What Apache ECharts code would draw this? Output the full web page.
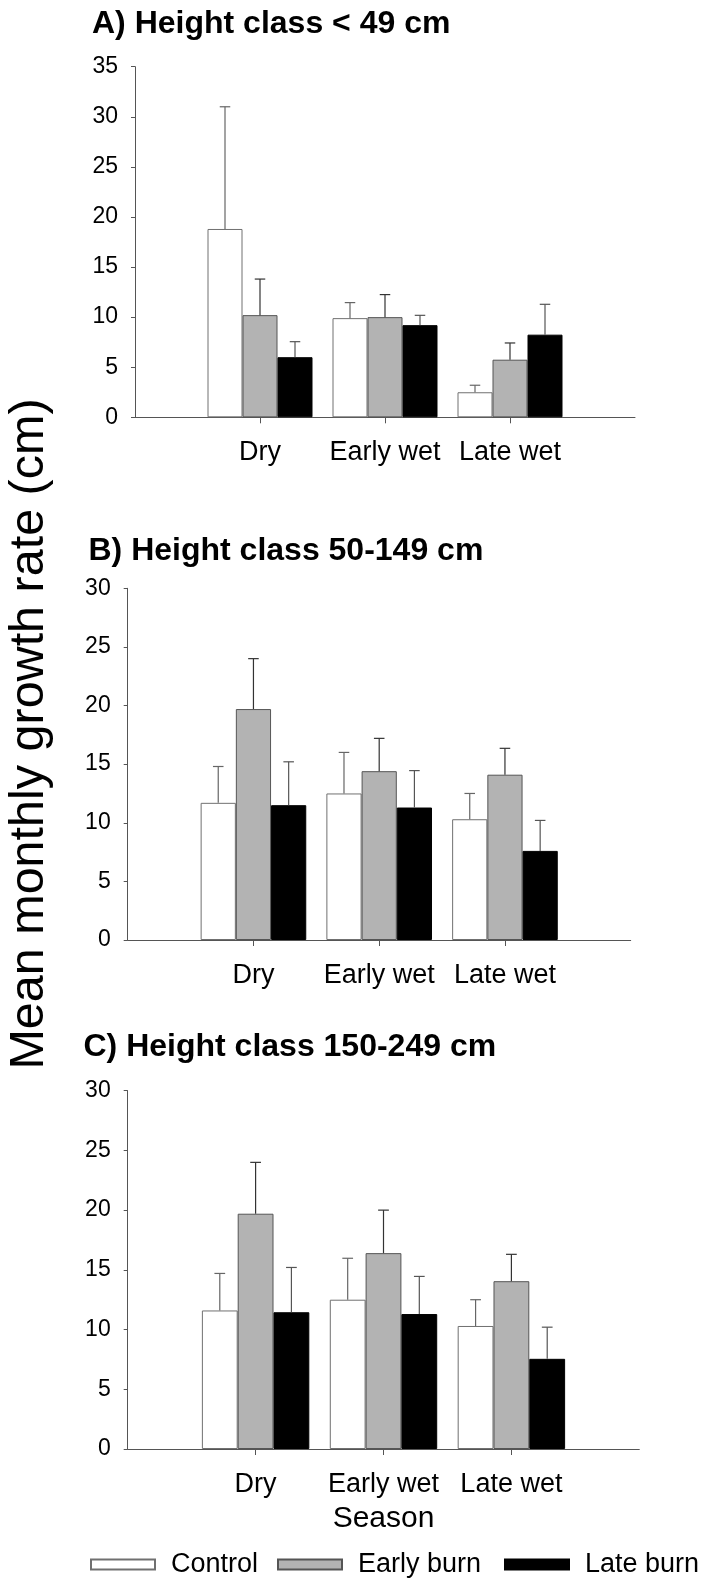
<!DOCTYPE html>
<html><head><meta charset="utf-8">
<script src="https://cdn.jsdelivr.net/npm/echarts@6/dist/echarts.min.js"></script>
<style>html,body{margin:0;padding:0;background:#fff}#c{width:721px;height:1579px}</style>
</head><body><div id="c"></div>
<script>
// ---------- DATA ----------
const seasons = ['Dry', 'Early wet', 'Late wet'];
const treatments = ['Control', 'Early burn', 'Late burn'];
const panelTitles = ['A) Height class < 49 cm', 'B) Height class 50-149 cm', 'C) Height class 150-249 cm'];
const yMaxValues = [35, 30, 30];
const yStep = 5;
const yAxisTitle = 'Mean monthly growth rate (cm)';
const xAxisTitle = 'Season';

// Panel A means / standard errors (upper bars)
const meanA_Control = [18.8, 9.9, 2.5];
const meanA_Early = [10.2, 10.0, 5.75];
const meanA_Late = [6.0, 9.2, 8.25];
const errA_Control = [12.2, 1.55, 0.7];
const errA_Early = [3.6, 2.25, 1.67];
const errA_Late = [1.55, 0.98, 3.03];
// Panel B
const meanB_Control = [11.7, 12.5, 10.3];
const meanB_Early = [19.7, 14.4, 14.1];
const meanB_Late = [11.5, 11.3, 7.6];
const errB_Control = [3.1, 3.5, 2.2];
const errB_Early = [4.3, 2.8, 2.25];
const errB_Late = [3.7, 3.15, 2.6];
// Panel C
const meanC_Control = [11.6, 12.5, 10.3];
const meanC_Early = [19.7, 16.4, 14.05];
const meanC_Late = [11.45, 11.3, 7.55];
const errC_Control = [3.1, 3.47, 2.2];
const errC_Early = [4.3, 3.6, 2.25];
const errC_Late = [3.75, 3.15, 2.65];

// ---------- LAYOUT / STYLE ----------
const FONT = 'Liberation Sans, Arial, Helvetica, sans-serif';
const GRIDS = [
  {left: 135, top: 66.7, width: 500, height: 350.6},
  {left: 127.7, top: 588.3, width: 503, height: 351.7},
  {left: 127.7, top: 1090.7, width: 511.6, height: 358.3}
];
const TITLE_POS = [{left: 92, top: 8}, {left: 88.5, top: 535}, {left: 83.5, top: 1031.5}];
const BAR_FRAC = 0.28;
const BAR_STYLES = [
  {color: '#ffffff', borderColor: '#707070', borderWidth: 1},
  {color: '#b3b3b3', borderColor: '#555555', borderWidth: 1},
  {color: '#000000', borderColor: '#000000', borderWidth: 1}
];
const ERR_COLORS = ['#666666', '#333333', '#555555'];
const LEGEND_X = [90, 277, 504];

const means = [
  [meanA_Control, meanA_Early, meanA_Late],
  [meanB_Control, meanB_Early, meanB_Late],
  [meanC_Control, meanC_Early, meanC_Late]
];
const errs = [
  [errA_Control, errA_Early, errA_Late],
  [errB_Control, errB_Early, errB_Late],
  [errC_Control, errC_Early, errC_Late]
];
const cats = [''].concat(seasons).concat([' ']);

const grid = [], xAxis = [], yAxis = [], series = [], title = [];
for (let p = 0; p < 3; p++) {
  grid.push(Object.assign({outerBoundsMode: 'none', containLabel: false}, GRIDS[p]));
  title.push({text: panelTitles[p], left: TITLE_POS[p].left, top: TITLE_POS[p].top, padding: 0,
    textStyle: {fontSize: 32, fontWeight: 'bold', color: '#000', fontFamily: FONT}});
  xAxis.push({
    type: 'category', gridIndex: p, data: cats, boundaryGap: false,
    axisLine: {show: true, lineStyle: {color: '#555', width: 1}},
    axisTick: {show: true, length: 6, interval: (i, v) => String(v).trim() !== '', lineStyle: {color: '#555'}},
    axisLabel: {interval: 0, color: '#000', fontSize: 27, fontFamily: FONT, margin: 22},
    splitLine: {show: false},
    name: p === 2 ? xAxisTitle : '', nameLocation: 'middle', nameGap: 55,
    nameTextStyle: {fontSize: 30, color: '#000', fontFamily: FONT}
  });
  yAxis.push({
    type: 'value', gridIndex: p, min: 0, max: yMaxValues[p], interval: yStep,
    axisLine: {show: true, lineStyle: {color: '#555', width: 1}},
    axisTick: {show: true, length: 4, lineStyle: {color: '#555'}},
    axisLabel: {color: '#000', fontSize: 23, fontFamily: FONT, margin: 17},
    splitLine: {show: false}
  });
  for (let t = 0; t < 3; t++) {
    series.push({
      type: 'bar', name: treatments[t], xAxisIndex: p, yAxisIndex: p,
      data: ['-'].concat(means[p][t]).concat(['-']),
      barWidth: (BAR_FRAC * 100) + '%', barGap: '0%',
      itemStyle: BAR_STYLES[t], z: 2, silent: true
    });
    const k = t;
    series.push({
      type: 'custom', xAxisIndex: p, yAxisIndex: p, z: 3, silent: true,
      data: seasons.map((s, i) => [s, means[p][t][i], errs[p][t][i]]),
      encode: {x: 0, y: 1},
      renderItem: function (params, api) {
        const c = api.value(0);
        const m = api.value(1), e = api.value(2);
        const base = api.coord([c, m]);
        const top = api.coord([c, m + e]);
        const band = api.size([1, 0])[0];
        const bw = band * BAR_FRAC;
        const x = base[0] + (k - 1) * bw;
        const cap = bw * 0.3;
        const st = {stroke: ERR_COLORS[k], lineWidth: 1.2};
        return {type: 'group', children: [
          {type: 'line', shape: {x1: x, y1: base[1], x2: x, y2: top[1]}, style: st},
          {type: 'line', shape: {x1: x - cap / 2, y1: top[1], x2: x + cap / 2, y2: top[1]}, style: st}
        ]};
      }
    });
  }
}

const legend = treatments.map((t, i) => ({
  data: [t], left: LEGEND_X[i], top: 1551, padding: 0, itemGap: 0,
  icon: 'rect', itemWidth: 64, itemHeight: 10, selectedMode: false,
  formatter: '{g| }{name}',
  textStyle: {fontSize: 27, color: '#000', fontFamily: FONT, rich: {g: {width: 11, fontSize: 27}}}
}));

const chart = echarts.init(document.getElementById('c'), null, {renderer: 'canvas'});
chart.setOption({
  animation: false,
  backgroundColor: '#fff',
  textStyle: {fontFamily: FONT},
  title, grid, xAxis, yAxis, series, legend,
  graphic: [{
    type: 'text', x: 30, y: 734, rotation: Math.PI / 2, silent: true,
    style: {text: yAxisTitle, fontSize: 48.5, fontFamily: FONT, fill: '#000', align: 'center', verticalAlign: 'middle'}
  }]
});
</script></body></html>
